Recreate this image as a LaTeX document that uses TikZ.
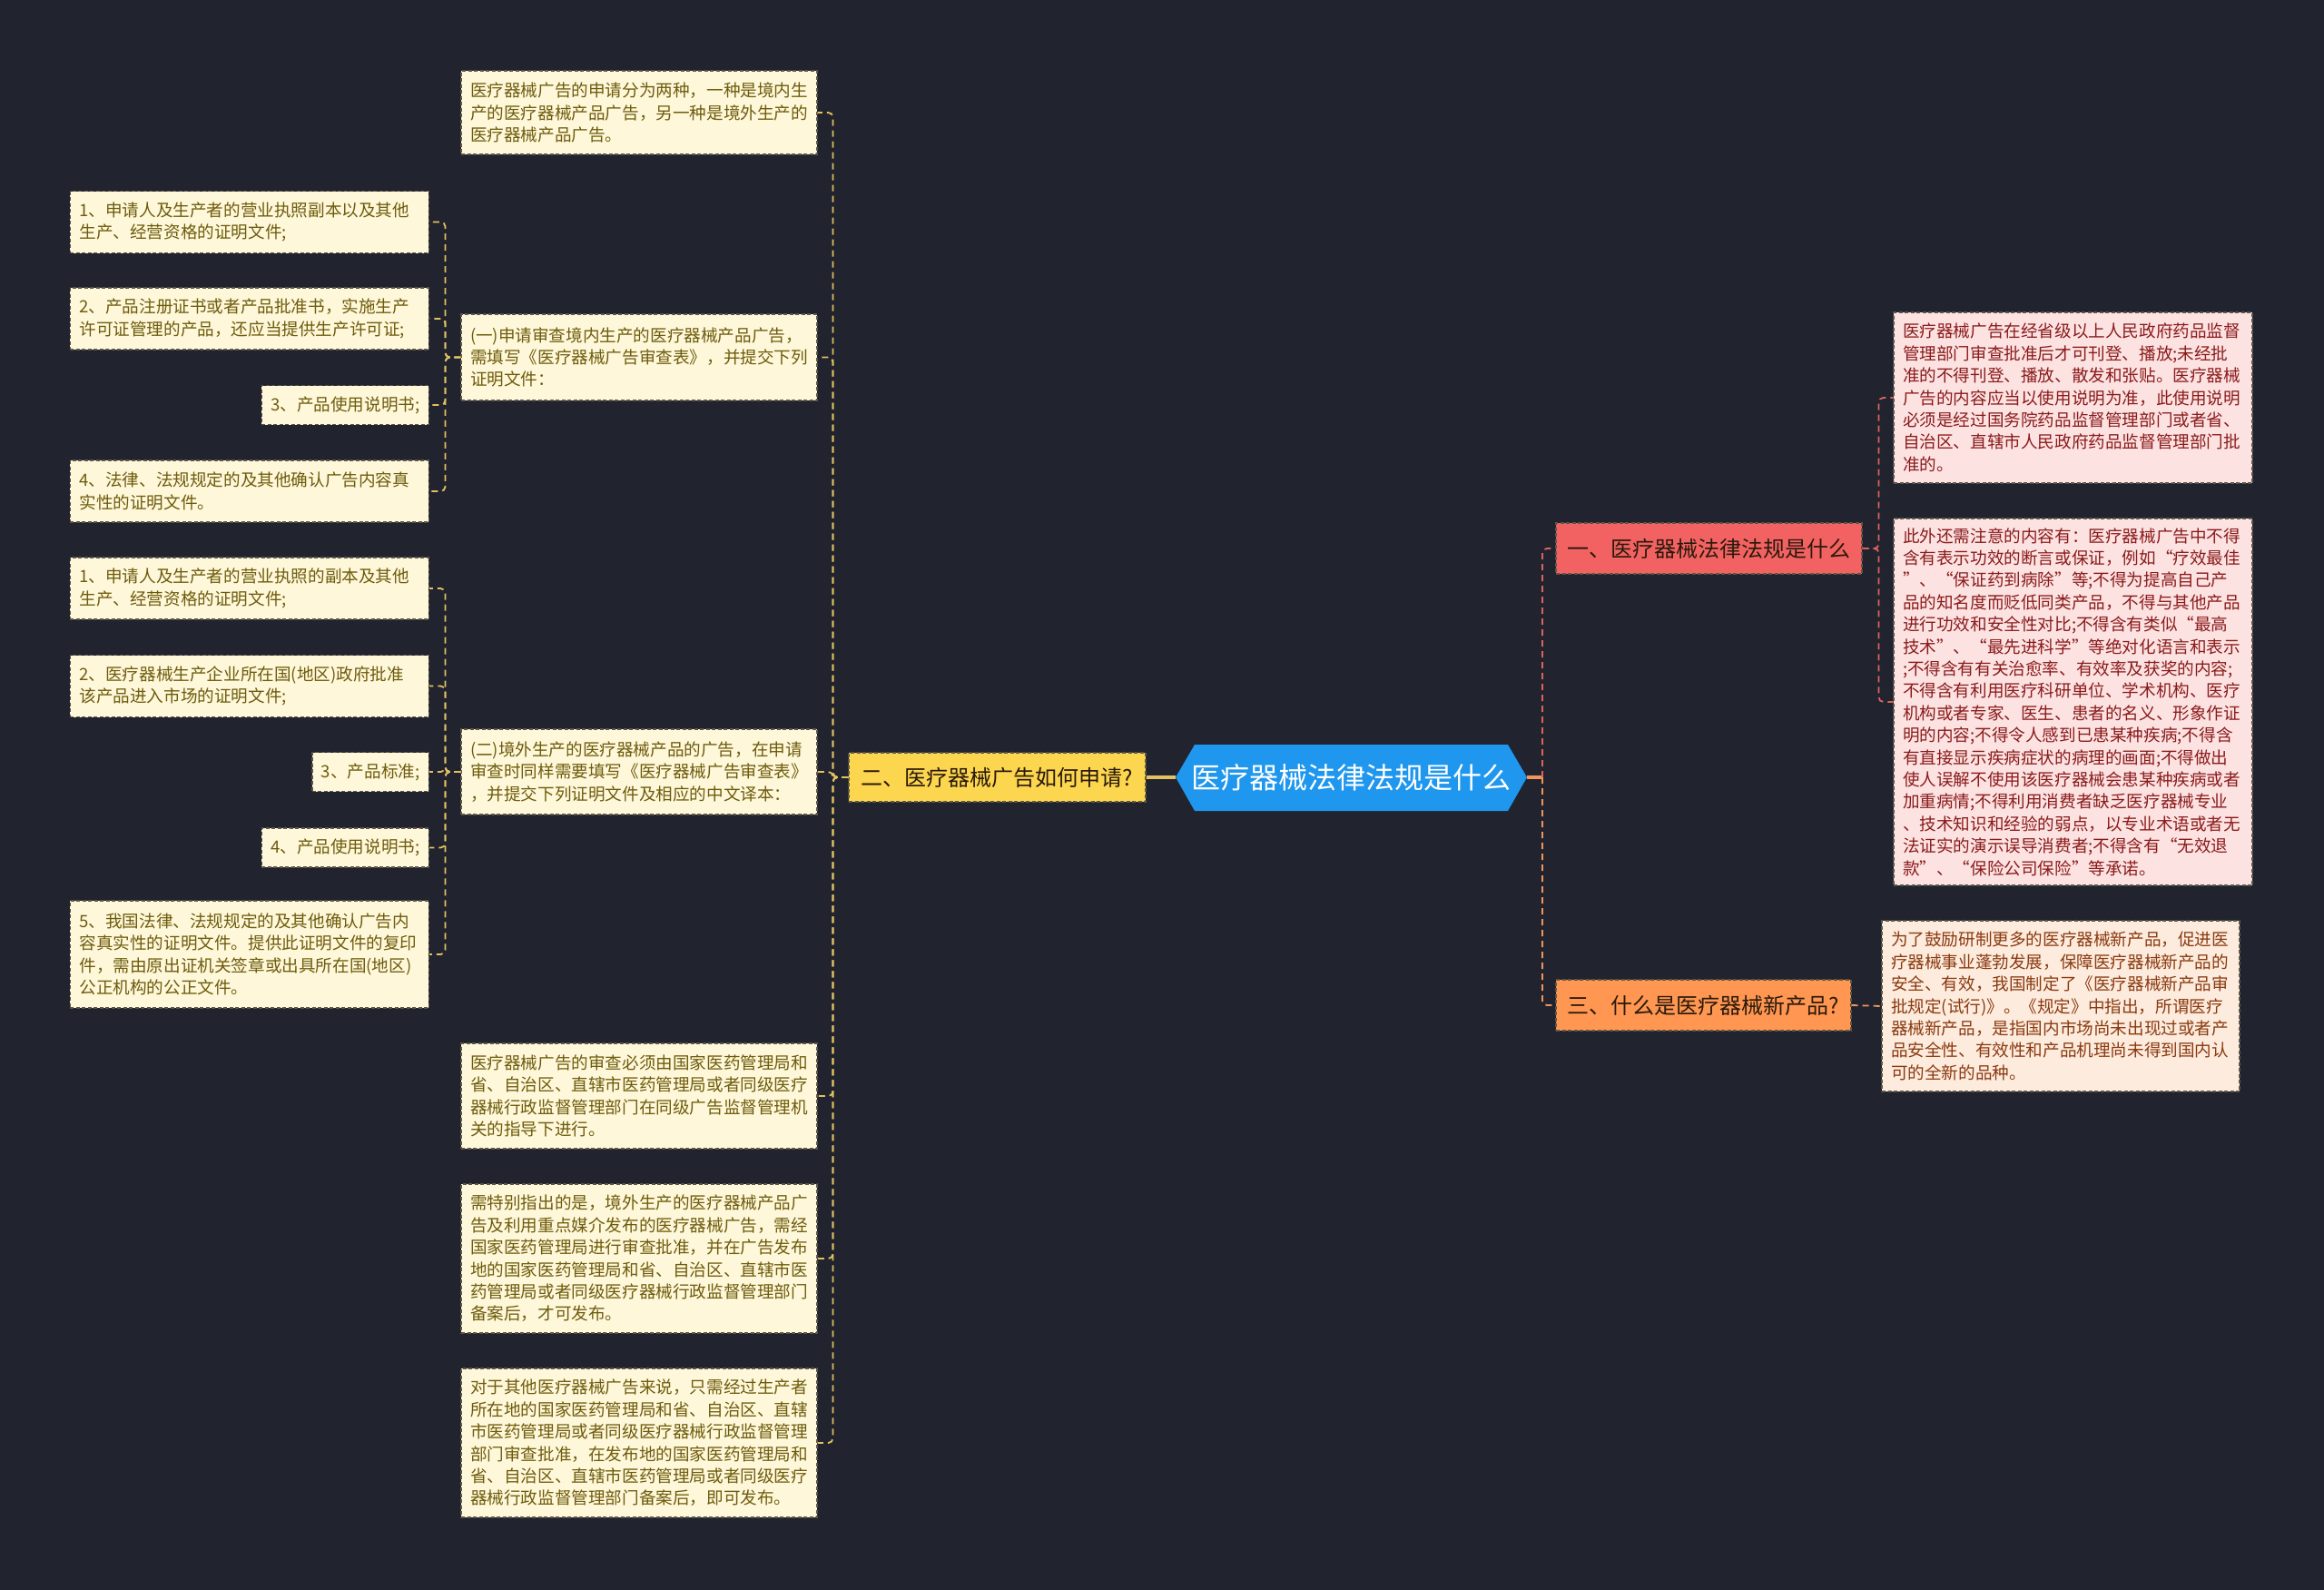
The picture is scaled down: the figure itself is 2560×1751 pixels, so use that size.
\documentclass[tikz,border=0pt]{standalone}
\usepackage{fontspec}
\newfontfamily\cjk{Noto Sans CJK SC}
\definecolor{bg}{HTML}{21242F}
\definecolor{creamfill}{HTML}{FEF7DA}
\definecolor{creamtext}{HTML}{6E5C0C}
\definecolor{pinkfill}{HTML}{FDE2E2}
\definecolor{pinktext}{HTML}{8A1B1B}
\definecolor{peachfill}{HTML}{FDEBDD}
\definecolor{peachtext}{HTML}{8A3A10}
\definecolor{boxline}{HTML}{5C5648}
\definecolor{ylw}{HTML}{FDD64F}
\definecolor{ylwline}{HTML}{E3C160}
\definecolor{redfill}{HTML}{F36262}
\definecolor{redline}{HTML}{E0625F}
\definecolor{orgfill}{HTML}{FF9651}
\definecolor{orgline}{HTML}{F2955B}
\definecolor{blue}{HTML}{1F97EE}
\definecolor{darktext}{HTML}{2A1A0C}
\tikzset{
  leafbase/.style={rectangle, draw=boxline, dash pattern=on 4pt off 2.5pt, line width=1.1pt,
    align=left, inner xsep=10pt, inner ysep=0pt,
    font=\cjk\fontsize{18.6pt}{24.4pt}\selectfont},
  cream/.style={leafbase, fill=creamfill, text=creamtext},
  pinkleaf/.style={leafbase, fill=pinkfill, text=pinktext},
  peachleaf/.style={leafbase, fill=peachfill, text=peachtext},
  branch/.style={rectangle, draw=boxline, dash pattern=on 4pt off 2.5pt, line width=1.1pt,
    text=darktext, inner xsep=8pt, font=\cjk\fontsize{24pt}{28pt}\selectfont},
  ylink/.style={draw=ylwline, line width=1.8pt, dash pattern=on 7pt off 5pt, rounded corners=5pt},
  rlink/.style={draw=redline, line width=1.8pt, dash pattern=on 7pt off 5pt, rounded corners=5pt},
  olink/.style={draw=orgline, line width=1.8pt, dash pattern=on 7pt off 5pt, rounded corners=5pt},
}
\begin{document}
\begin{tikzpicture}[x=1pt,y=-1pt]
\useasboundingbox (0,0) rectangle (2560,1751);
\fill[bg] (0,0) rectangle (2560,1751);

% central hexagon
\fill[blue] (1295,856) -- (1316,820) -- (1661,820) -- (1682,856) -- (1661,893) -- (1316,893) -- cycle;
\node[minimum width=387pt, minimum height=73pt, inner sep=0pt, text=white,
  font=\cjk\fontsize{32pt}{36pt}\selectfont] (c) at (1488.5,856) {医疗器械法律法规是什么};

% branches
\node[branch, fill=ylw, minimum width=327pt, minimum height=54pt] (b2) at (1098.5,856) {二、医疗器械广告如何申请?};
\node[branch, fill=redfill, minimum width=337pt, minimum height=56pt] (b1) at (1882.5,604) {一、医疗器械法律法规是什么};
\node[branch, fill=orgfill, minimum width=325pt, minimum height=56pt] (b3) at (1876.5,1107) {三、什么是医疗器械新产品?};

% middle column
\node[cream, text width=372pt, minimum height=92pt] (m1) at (704,124) {医疗器械广告的申请分为两种，一种是境内生\\产的医疗器械产品广告，另一种是境外生产的\\医疗器械产品广告。};
\node[cream, text width=372pt, minimum height=95pt] (m2) at (704,393.5) {(一)申请审查境内生产的医疗器械产品广告，\\需填写《医疗器械广告审查表》，并提交下列\\证明文件：};
\node[cream, text width=372pt, minimum height=94pt] (m3) at (704,850) {(二)境外生产的医疗器械产品的广告，在申请\\审查时同样需要填写《医疗器械广告审查表》\\，并提交下列证明文件及相应的中文译本：};
\node[cream, text width=372pt, minimum height=116pt] (m4) at (704,1207) {医疗器械广告的审查必须由国家医药管理局和\\省、自治区、直辖市医药管理局或者同级医疗\\器械行政监督管理部门在同级广告监督管理机\\关的指导下进行。};
\node[cream, text width=372pt, minimum height=164pt] (m5) at (704,1386) {需特别指出的是，境外生产的医疗器械产品广\\告及利用重点媒介发布的医疗器械广告，需经\\国家医药管理局进行审查批准，并在广告发布\\地的国家医药管理局和省、自治区、直辖市医\\药管理局或者同级医疗器械行政监督管理部门\\备案后，才可发布。};
\node[cream, text width=372pt, minimum height=164pt] (m6) at (704,1589) {对于其他医疗器械广告来说，只需经过生产者\\所在地的国家医药管理局和省、自治区、直辖\\市医药管理局或者同级医疗器械行政监督管理\\部门审查批准，在发布地的国家医药管理局和\\省、自治区、直辖市医药管理局或者同级医疗\\器械行政监督管理部门备案后，即可发布。};

% left column, group 1
\node[cream, text width=375pt, minimum height=68pt, anchor=east] (l1) at (473,244.5) {1、申请人及生产者的营业执照副本以及其他\\生产、经营资格的证明文件;};
\node[cream, text width=375pt, minimum height=68pt, anchor=east] (l2) at (473,351) {2、产品注册证书或者产品批准书，实施生产\\许可证管理的产品，还应当提供生产许可证;};
\node[cream, minimum height=43pt, anchor=east] (l3) at (473,446) {3、产品使用说明书;};
\node[cream, text width=375pt, minimum height=68pt, anchor=east] (l4) at (473,541) {4、法律、法规规定的及其他确认广告内容真\\实性的证明文件。};

% left column, group 2
\node[cream, text width=375pt, minimum height=68pt, anchor=east] (l5) at (473,648) {1、申请人及生产者的营业执照的副本及其他\\生产、经营资格的证明文件;};
\node[cream, text width=375pt, minimum height=68pt, anchor=east] (l6) at (473,755.5) {2、医疗器械生产企业所在国(地区)政府批准\\该产品进入市场的证明文件;};
\node[cream, minimum height=43pt, anchor=east] (l7) at (473,850) {3、产品标准;};
\node[cream, minimum height=43pt, anchor=east] (l8) at (473,933.5) {4、产品使用说明书;};
\node[cream, text width=375pt, minimum height=118pt, anchor=east] (l9) at (473,1051) {5、我国法律、法规规定的及其他确认广告内\\容真实性的证明文件。提供此证明文件的复印\\件，需由原出证机关签章或出具所在国(地区)\\公正机构的公正文件。};

% right column
\node[pinkleaf, text width=375pt, minimum height=188pt] (r1) at (2283.5,438) {医疗器械广告在经省级以上人民政府药品监督\\管理部门审查批准后才可刊登、播放;未经批\\准的不得刊登、播放、散发和张贴。医疗器械\\广告的内容应当以使用说明为准，此使用说明\\必须是经过国务院药品监督管理部门或者省、\\自治区、直辖市人民政府药品监督管理部门批\\准的。};
\node[pinkleaf, text width=375pt, minimum height=404pt] (r2) at (2283.5,773) {此外还需注意的内容有：医疗器械广告中不得\\含有表示功效的断言或保证，例如“疗效最佳\\”、“保证药到病除”等;不得为提高自己产\\品的知名度而贬低同类产品，不得与其他产品\\进行功效和安全性对比;不得含有类似“最高\\技术”、“最先进科学”等绝对化语言和表示\\;不得含有有关治愈率、有效率及获奖的内容;\\不得含有利用医疗科研单位、学术机构、医疗\\机构或者专家、医生、患者的名义、形象作证\\明的内容;不得令人感到已患某种疾病;不得含\\有直接显示疾病症状的病理的画面;不得做出\\使人误解不使用该医疗器械会患某种疾病或者\\加重病情;不得利用消费者缺乏医疗器械专业\\、技术知识和经验的弱点，以专业术语或者无\\法证实的演示误导消费者;不得含有“无效退\\款”、“保险公司保险”等承诺。};
\node[peachleaf, text width=374pt, minimum height=188pt] (r3) at (2270,1108) {为了鼓励研制更多的医疗器械新产品，促进医\\疗器械事业蓬勃发展，保障医疗器械新产品的\\安全、有效，我国制定了《医疗器械新产品审\\批规定(试行)》。《规定》中指出，所谓医疗\\器械新产品，是指国内市场尚未出现过或者产\\品安全性、有效性和产品机理尚未得到国内认\\可的全新的品种。};

% connectors: centre to branches
\draw[ylwline, line width=3.5pt] (c.west) -- (b2.east);
\coordinate (rs) at (1699,856);
\draw[orgline, line width=3.5pt] (c.east) -- (rs);
\draw[rlink] (rs) |- (b1.west);
\draw[olink] (rs) |- (b3.west);

% branch 二 to middle column
\foreach \m in {m1,m2,m3,m4,m5,m6}{
  \draw[ylink] (b2.west) -- ++(-17,0) |- (\m.east);
}
% group 1
\foreach \l in {l1,l2,l3,l4}{
  \draw[ylink] (m2.west) -- ++(-17,0) |- (\l.east);
}
% group 2
\foreach \l in {l5,l6,l7,l8,l9}{
  \draw[ylink] (m3.west) -- ++(-17,0) |- (\l.east);
}
% branch 一
\draw[rlink] (b1.east) -- ++(18,0) |- (r1.west);
\draw[rlink] (b1.east) -- ++(18,0) |- (r2.west);
% branch 三
\draw[olink] (b3.east) -- (r3.west);
\end{tikzpicture}
\end{document}
